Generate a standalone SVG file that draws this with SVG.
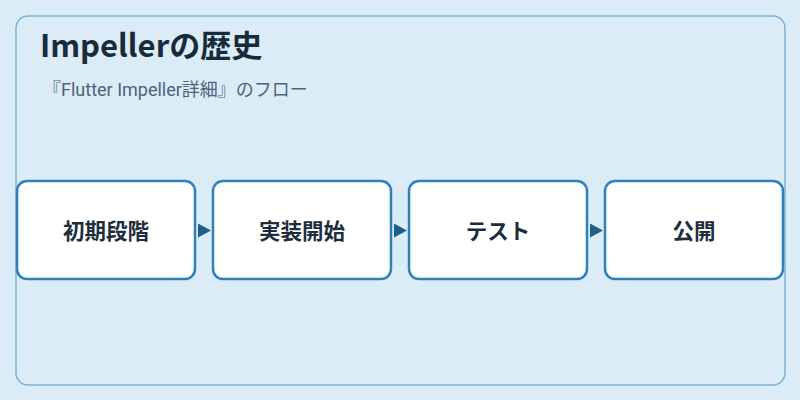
<svg xmlns="http://www.w3.org/2000/svg" width="800" height="400" viewBox="0 0 800 400">
<defs>
<style>
.node rect{fill:#ffffff;stroke:#2e82b8;stroke-width:2.5}
.node text{font-family:"Noto Sans CJK JP","Noto Sans",sans-serif;font-size:21.5px;font-weight:bold;fill:#1c2e3d;text-anchor:middle}
.conn polygon{fill:#1f5f8b}
</style>
</defs>
<rect x="0" y="0" width="800" height="400" fill="#dcecf7"/>
<rect x="16" y="16" width="769" height="369" rx="12" fill="#dcecf7" stroke="#7ab3d6" stroke-width="1.5"/>
<text x="40" y="57" font-family="'Noto Sans CJK JP',sans-serif" font-size="31" font-weight="bold" fill="#172b3b">Impellerの歴史</text>
<text x="43" y="96" font-family="Roboto,'Noto Sans CJK JP',sans-serif" font-size="18" fill="#4b6479">『Flutter Impeller詳細』のフロー</text>
<g class="conn">
<polygon points="198,223.5 211,230.5 198,237.5"/>
<polygon points="394,223.5 407,230.5 394,237.5"/>
<polygon points="590,223.5 603,230.5 590,237.5"/>
</g>
<g id="n1" class="node"><rect x="17" y="181" width="178" height="98" rx="10"/><text x="106" y="239">初期段階</text></g>
<g id="n2" class="node"><rect x="213" y="181" width="178" height="98" rx="10"/><text x="302" y="239">実装開始</text></g>
<g id="n3" class="node"><rect x="409" y="181" width="178" height="98" rx="10"/><text x="498" y="239">テスト</text></g>
<g id="n4" class="node"><rect x="605" y="181" width="178" height="98" rx="10"/><text x="694" y="239">公開</text></g>
</svg>
